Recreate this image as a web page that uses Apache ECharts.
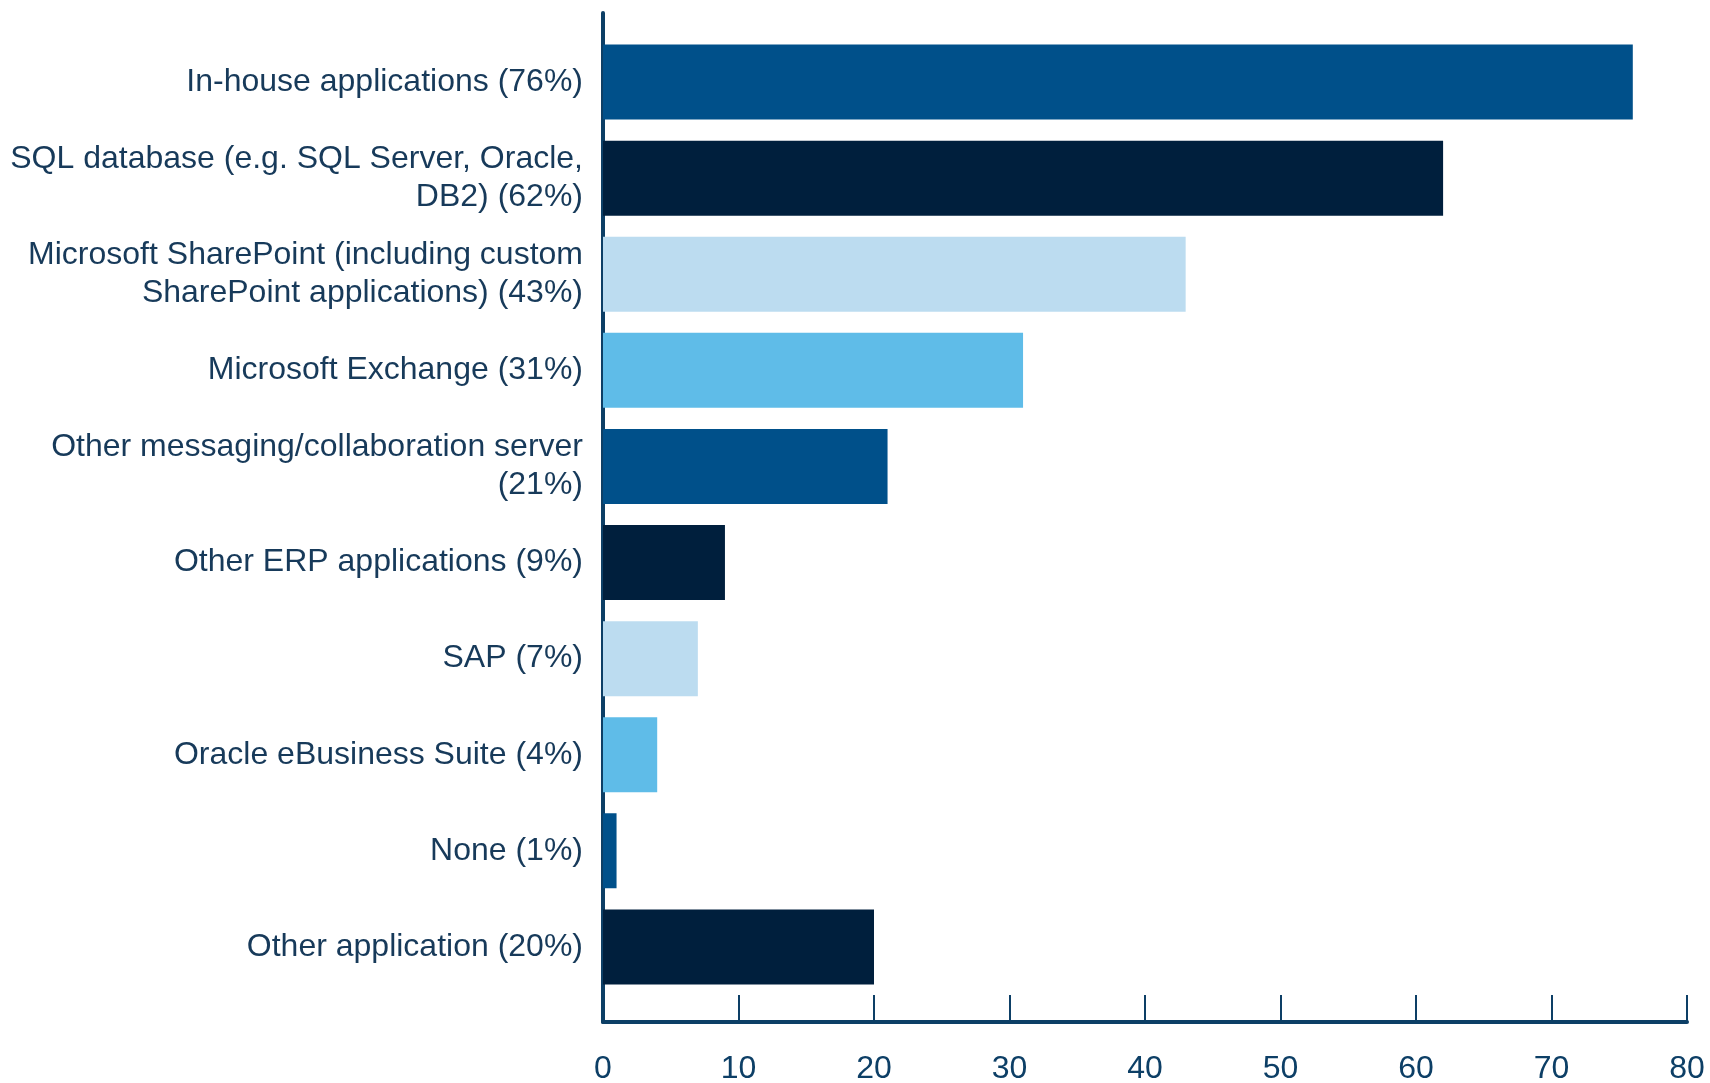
<!DOCTYPE html>
<html>
<head>
<meta charset="utf-8">
<script src="https://cdn.jsdelivr.net/npm/echarts@6/dist/echarts.min.js"></script>
<style>
  html, body { margin: 0; padding: 0; background: #fff; }
  #chart { width: 1710px; height: 1083px; }
</style>
</head>
<body>
<div id="chart"></div>
<script>
// data
const categories = [
  'In-house applications (76%)',
  'SQL database (e.g. SQL Server, Oracle,\nDB2) (62%)',
  'Microsoft SharePoint (including custom\nSharePoint applications) (43%)',
  'Microsoft Exchange (31%)',
  'Other messaging/collaboration server\n(21%)',
  'Other ERP applications (9%)',
  'SAP (7%)',
  'Oracle eBusiness Suite (4%)',
  'None (1%)',
  'Other application (20%)'
]
const values = [76, 62, 43, 31, 21, 9, 7, 4, 1, 20]
const xTicks = [0, 10, 20, 30, 40, 50, 60, 70, 80]

// bar colours repeat every four bars
const palette = ['#00508a', '#001f3d', '#bcdcf0', '#5fbce8']
const inkColor = '#173a5a'
const axisColor = '#0d3f66'
const fontFamily = '"Liberation Sans", Arial, sans-serif'

const chart = echarts.init(document.getElementById('chart'))

chart.setOption({
  animation: false,
  backgroundColor: '#ffffff',
  grid: [
    // bars
    { left: 603, right: 23, top: 34, bottom: 88, outerBoundsMode: 'none', containLabel: false },
    // axis frame, taller than the bars
    { left: 603, right: 23, top: 13, bottom: 61, outerBoundsMode: 'none', containLabel: false }
  ],
  xAxis: [
    { gridIndex: 0, type: 'value', min: 0, max: 80, show: false },
    {
      gridIndex: 1,
      type: 'value',
      min: xTicks[0],
      max: xTicks[xTicks.length - 1],
      interval: 10,
      splitLine: { show: false },
      axisLine: { show: true, lineStyle: { color: axisColor, width: 4 } },
      axisTick: { show: true, inside: true, length: 27, lineStyle: { color: axisColor, width: 2 } },
      axisLabel: { color: axisColor, fontSize: 32, fontFamily, margin: 31 }
    }
  ],
  yAxis: [
    {
      gridIndex: 0,
      type: 'category',
      data: categories,
      inverse: true,
      axisLine: { show: false },
      axisTick: { show: false },
      splitLine: { show: false },
      axisLabel: {
        color: inkColor,
        fontSize: 32,
        fontFamily,
        lineHeight: 38,
        align: 'right',
        margin: 20
      }
    },
    {
      gridIndex: 1,
      type: 'value',
      axisLine: { show: true, lineStyle: { color: axisColor, width: 4 } },
      axisTick: { show: false },
      axisLabel: { show: false },
      splitLine: { show: false }
    }
  ],
  series: [
    {
      type: 'bar',
      xAxisIndex: 0,
      yAxisIndex: 0,
      data: values,
      barCategoryGap: '22%',
      itemStyle: {
        color: (p) => palette[p.dataIndex % palette.length]
      }
    }
  ]
})
</script>
</body>
</html>
